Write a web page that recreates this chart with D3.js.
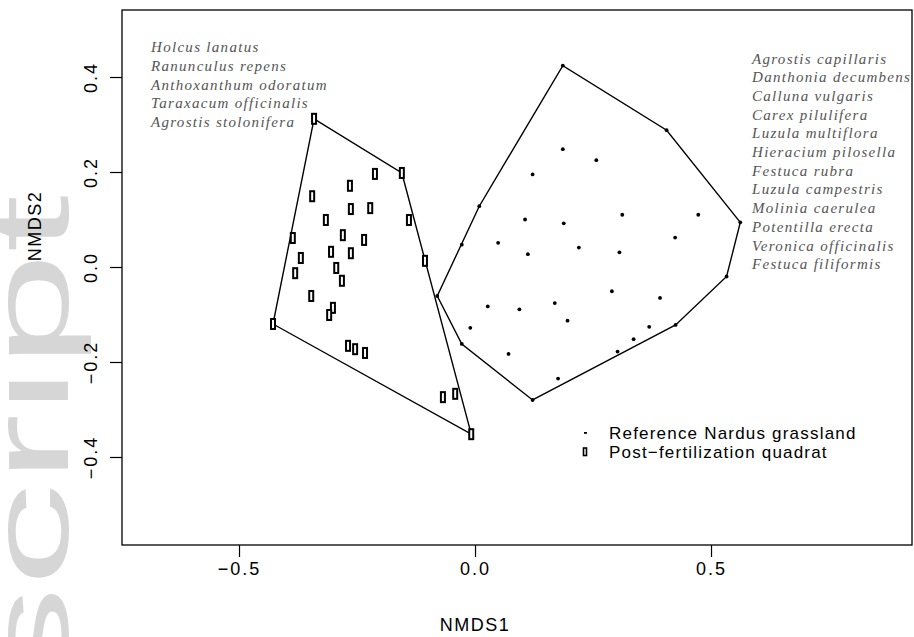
<!DOCTYPE html>
<meta charset="utf-8">
<style>
body { margin: 0; background: #fff; }
svg { display: block; }
.axis path.domain { display: none; }
.axis line { stroke: #000; stroke-width: 1.2; }
.axis text { font-family: "Liberation Sans", Arial, sans-serif; font-size: 18px; letter-spacing: 2px; fill: #000; }
.hull { fill: none; stroke: #000; stroke-width: 1.4; }
.species { font-family: "Liberation Serif", "Times New Roman", serif; font-style: italic; font-size: 15px; letter-spacing: 1.3px; fill: #555; }
.lab { font-family: "Liberation Sans", Arial, sans-serif; font-size: 18px; letter-spacing: 1.5px; fill: #000; }
.legend text { font-family: "Liberation Sans", Arial, sans-serif; font-size: 17px; letter-spacing: 1.2px; fill: #000; }
</style>
<body>
<svg width="914" height="637"></svg>
<script src="https://cdn.jsdelivr.net/npm/d3@7"></script>
<script>

// NMDS scores, reference Nardus grassland quadrats (dots)
var refX = [0.186, 0.406, 0.562, 0.533, 0.425, 0.122, -0.028, -0.080, -0.028, 0.009,
            0.186, 0.257, 0.122, 0.106, 0.188, 0.312, 0.473, 0.049, 0.220, 0.424,
            0.112, 0.306, 0.290, 0.392, 0.027, 0.094, 0.169, 0.196, -0.010, 0.369,
            0.336, 0.302, 0.071, 0.176];
var refY = [0.424, 0.288, 0.094, -0.020, -0.122, -0.280, -0.162, -0.061, 0.047, 0.128,
            0.248, 0.225, 0.195, 0.100, 0.092, 0.110, 0.110, 0.051, 0.041, 0.062,
            0.027, 0.031, -0.051, -0.065, -0.083, -0.089, -0.076, -0.113, -0.128, -0.126,
            -0.152, -0.178, -0.183, -0.235];

// post-fertilization quadrats (open rectangles)
var postX = [-0.341, -0.155, -0.212, -0.265, -0.345, -0.263, -0.222, -0.316, -0.140, -0.386,
             -0.280, -0.235, -0.369, -0.305, -0.263, -0.106, -0.381, -0.294, -0.282, -0.347,
             -0.301, -0.309, -0.428, -0.269, -0.254, -0.233, -0.068, -0.042, -0.008];
var postY = [0.312, 0.198, 0.196, 0.171, 0.149, 0.122, 0.124, 0.099, 0.099, 0.061,
             0.067, 0.057, 0.019, 0.032, 0.029, 0.013, -0.013, -0.002, -0.029, -0.061,
             -0.086, -0.101, -0.120, -0.166, -0.173, -0.181, -0.274, -0.267, -0.352];

var postSpecies = ["Holcus lanatus", "Ranunculus repens", "Anthoxanthum odoratum",
                   "Taraxacum officinalis", "Agrostis stolonifera"];
var refSpecies = ["Agrostis capillaris", "Danthonia decumbens", "Calluna vulgaris",
                  "Carex pilulifera", "Luzula multiflora", "Hieracium pilosella",
                  "Festuca rubra", "Luzula campestris", "Molinia caerulea",
                  "Potentilla erecta", "Veronica officinalis", "Festuca filiformis"];

var xTicks = [-0.5, 0, 0.5];
var yTicks = [-0.4, -0.2, 0, 0.2, 0.4];
var legendLabels = ["Reference Nardus grassland", "Post\u2212fertilization quadrat"];

var svg = d3.select("svg"),
    box = {left: 122, top: 10, right: 912, bottom: 545};

var x = d3.scaleLinear().domain([-0.7479, 0.9258]).range([box.left, box.right]);
var y = d3.scaleLinear().domain([-0.5853, 0.5411]).range([box.bottom, box.top]);

// faint watermark running up the left margin
svg.append("text")
    .attr("transform", "translate(68,195) rotate(-90) scale(1.85,1)")
    .attr("text-anchor", "end")
    .style("font-family", "Liberation Sans, Arial, sans-serif")
    .style("font-size", "112px")
    .style("fill", "#d6d6d6")
    .text("script");

// frame
svg.append("rect")
    .attr("x", box.left).attr("y", box.top)
    .attr("width", box.right - box.left).attr("height", box.bottom - box.top)
    .attr("fill", "none").attr("stroke", "#000").attr("stroke-width", 1.3);

var xAxis = svg.append("g")
    .attr("class", "axis")
    .attr("transform", "translate(0," + box.bottom + ")")
    .call(d3.axisBottom(x).tickValues(xTicks).tickFormat(d3.format(".1f")).tickSize(12).tickPadding(5));
xAxis.selectAll("text").attr("dy", "0.71em");

var yAxis = svg.append("g")
    .attr("class", "axis")
    .attr("transform", "translate(" + box.left + ",0)")
    .call(d3.axisLeft(y).tickValues(yTicks).tickFormat(d3.format(".1f")).tickSize(12));
yAxis.selectAll("text")
    .attr("x", null).attr("dy", null)
    .attr("text-anchor", "middle")
    .attr("transform", "translate(-31,0) rotate(-90)")
    .attr("dominant-baseline", "central");

svg.append("text").attr("class", "lab")
    .attr("x", 475).attr("y", 625).attr("text-anchor", "middle")
    .attr("dominant-baseline", "central")
    .text("NMDS1");
svg.append("text").attr("class", "lab")
    .attr("transform", "translate(35,226) rotate(-90)")
    .attr("text-anchor", "middle").attr("dominant-baseline", "central")
    .text("NMDS2");

// hulls
var refPts = refX.map(function(d, i) { return [x(d), y(refY[i])]; });
var postPts = postX.map(function(d, i) { return [x(d), y(postY[i])]; });
var line = d3.line().curve(d3.curveLinearClosed);

svg.append("path").attr("class", "hull").attr("d", line(d3.polygonHull(postPts)));
svg.append("path").attr("class", "hull").attr("d", line(d3.polygonHull(refPts)));

svg.selectAll(".dot")
    .data(refPts)
  .enter().append("circle")
    .attr("class", "dot")
    .attr("cx", function(d) { return d[0]; })
    .attr("cy", function(d) { return d[1]; })
    .attr("r", 1.9)
    .attr("fill", "#000");

svg.selectAll(".quad")
    .data(postPts)
  .enter().append("rect")
    .attr("class", "quad")
    .attr("x", function(d) { return d[0] - 2; })
    .attr("y", function(d) { return d[1] - 5; })
    .attr("width", 4).attr("height", 10)
    .attr("fill", "#fff")
    .attr("stroke", "#000").attr("stroke-width", 2);

// species lists
svg.selectAll(".sp1")
    .data(postSpecies)
  .enter().append("text")
    .attr("class", "species")
    .attr("x", 151)
    .attr("y", function(d, i) { return 47 + i * 18.8; })
    .attr("dominant-baseline", "central")
    .text(function(d) { return d; });

svg.selectAll(".sp2")
    .data(refSpecies)
  .enter().append("text")
    .attr("class", "species")
    .attr("x", 752)
    .attr("y", function(d, i) { return 58.5 + i * 18.7; })
    .attr("dominant-baseline", "central")
    .text(function(d) { return d; });

// legend
var legend = svg.append("g").attr("class", "legend");
legend.append("rect")
    .attr("x", 584).attr("y", 432).attr("width", 3).attr("height", 1.8).attr("fill", "#000");
legend.append("rect")
    .attr("x", 583.5).attr("y", 448).attr("width", 3).attr("height", 7.5)
    .attr("fill", "#fff").attr("stroke", "#000").attr("stroke-width", 1.6);
legend.selectAll("text")
    .data(legendLabels)
  .enter().append("text")
    .attr("x", 609)
    .attr("y", function(d, i) { return 433 + i * 19; })
    .attr("dominant-baseline", "central")
    .text(function(d) { return d; });

</script>
</body>
